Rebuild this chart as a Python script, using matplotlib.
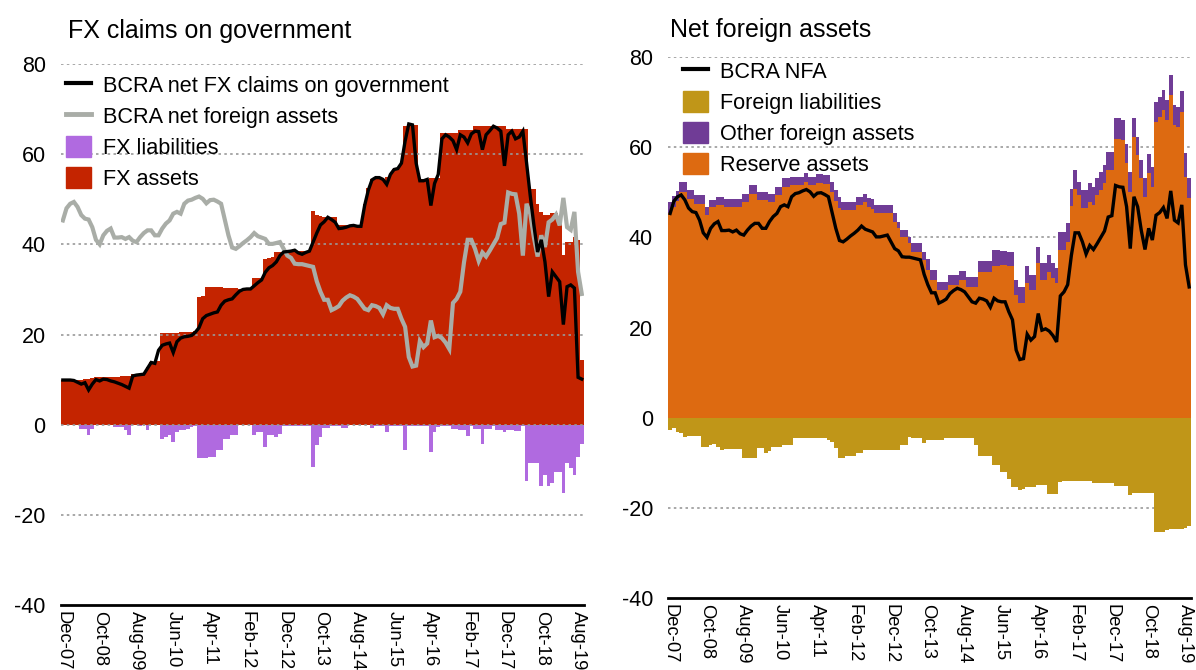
import matplotlib
matplotlib.use("Agg")
import matplotlib.pyplot as plt
from matplotlib import font_manager
from matplotlib.patches import Patch
from matplotlib.lines import Line2D
import numpy as np

# font: narrow sans if there is one
names = {f.name for f in font_manager.fontManager.ttflist}
if "Liberation Sans Narrow" in names:
    FONT = "Liberation Sans Narrow"
    SCALE = 1.0
else:
    FONT = "Liberation Sans"
    SCALE = 0.82
plt.rcParams["font.family"] = [FONT, "Liberation Sans", "DejaVu Sans"]
plt.rcParams["axes.unicode_minus"] = False

# ---- data (USD bn, monthly Dec-07 .. Sep-19) ----
tick_labels = ["Dec-07", "Oct-08", "Aug-09", "Jun-10", "Apr-11", "Feb-12", "Dec-12",
               "Oct-13", "Aug-14", "Jun-15", "Apr-16", "Feb-17", "Dec-17", "Oct-18", "Aug-19"]

fx_assets = [
    9.9, 9.9, 9.9, 9.9, 9.9, 10.0, 10.1, 10.2, 10.4, 10.5,
    10.5, 10.5, 10.5, 10.6, 10.6, 10.6, 10.7, 10.7, 10.8, 11.2,
    11.2, 11.2, 11.2, 12.8, 13.9, 13.9, 14.2, 20.3, 20.3, 20.4,
    20.4, 20.4, 20.5, 20.5, 20.6, 20.6, 20.7, 28.3, 28.5, 30.6,
    30.6, 30.6, 30.5, 30.5, 30.4, 30.4, 30.3, 30.3, 30.2, 30.2,
    30.1, 30.0, 32.5, 32.5, 32.6, 36.8, 36.9, 37.2, 38.3, 38.3,
    38.4, 38.5, 38.5, 38.5, 38.6, 38.6, 38.6, 38.7, 47.5, 46.4,
    46.2, 46.0, 46.0, 46.0, 46.0, 44.2, 44.2, 44.2, 44.2, 44.2,
    44.2, 44.2, 49.0, 52.5, 54.6, 55.0, 55.0, 54.6, 54.9, 55.6,
    56.8, 57.0, 58.2, 66.2, 66.6, 66.8, 66.5, 54.4, 54.4, 54.4,
    54.8, 54.8, 54.8, 64.7, 64.7, 64.7, 64.7, 64.7, 65.4, 65.4,
    65.4, 65.4, 66.2, 66.2, 66.2, 66.2, 66.3, 66.3, 66.3, 66.3,
    66.3, 65.6, 65.6, 65.6, 65.6, 65.6, 65.6, 52.2, 52.2, 48.9,
    47.1, 46.4, 46.4, 47.0, 47.0, 46.0, 37.6, 40.5, 40.5, 41.6,
    41.0, 14.3,
]

fx_liabilities = [
    0.0, 0.0, 0.0, 0.0, 0.0, -0.9, -0.9, -2.3, -0.9, 0.0,
    0.0, 0.0, 0.0, 0.0, -0.5, -0.5, -0.5, -1.2, -2.3, 0.0,
    0.0, -0.2, 0.0, -1.2, 0.0, 0.0, 0.0, -3.1, -2.8, -2.3,
    -3.8, -1.6, -1.2, -1.2, -1.0, -0.5, -0.3, -7.5, -7.5, -7.5,
    -7.1, -7.1, -5.6, -5.6, -3.1, -3.1, -2.3, -2.3, -0.1, -0.1,
    -0.1, -0.1, -2.3, -1.6, -1.6, -4.9, -2.3, -2.3, -2.7, -2.0,
    -0.2, -0.2, -0.2, -0.2, -0.2, -0.2, -0.2, -0.2, -9.3, -4.5,
    -2.7, -0.7, -0.7, -0.2, -0.2, -0.2, -0.7, -0.7, -0.1, -0.1,
    -0.1, -0.1, -0.1, -0.1, -0.7, -0.2, -0.2, -0.2, -1.6, -0.2,
    -0.2, -0.2, -0.2, -5.6, -0.2, -0.2, -0.2, -0.2, -0.2, -0.2,
    -6.0, -1.6, -0.5, -0.2, -0.2, -0.2, -0.9, -0.9, -1.2, -1.2,
    -2.6, -0.3, -0.9, -0.9, -4.2, -0.9, -0.9, -0.3, -1.2, -1.2,
    -1.6, -1.2, -1.2, -1.4, -1.4, -0.3, -12.6, -8.4, -8.4, -8.4,
    -13.6, -11.1, -13.6, -13.0, -10.4, -10.4, -15.2, -8.6, -9.7, -11.1,
    -7.1, -4.2,
]

net_fx_claims = [
    9.9, 9.9, 9.9, 9.8, 9.4, 9.0, 9.3, 7.7, 9.0, 10.0,
    9.7, 10.1, 10.0, 9.7, 9.5, 9.2, 8.9, 8.5, 8.1, 10.8,
    11.0, 11.1, 11.2, 12.5, 13.8, 13.6, 16.5, 17.6, 17.9, 18.1,
    16.0, 18.4, 19.2, 19.5, 19.6, 19.8, 20.5, 21.5, 23.5, 24.2,
    24.5, 24.8, 25.0, 26.5, 27.4, 27.7, 27.9, 28.8, 29.6, 30.0,
    30.1, 30.1, 30.8, 31.5, 32.1, 33.8, 34.8, 35.3, 36.1, 37.5,
    38.3, 38.4, 38.5, 38.7, 38.1, 37.8, 38.2, 38.5, 40.5, 42.5,
    44.3, 45.0, 46.0, 45.5, 44.9, 43.5, 43.6, 43.8, 44.1, 44.2,
    44.0, 44.0, 48.6, 52.0, 54.3, 54.8, 54.8, 54.4, 53.3, 55.5,
    56.6, 56.8, 58.0, 62.9, 66.7, 66.5, 58.0, 54.1, 54.1, 54.4,
    48.6, 53.5, 55.5, 63.4, 64.3, 63.8, 63.0, 61.0, 64.3, 63.8,
    62.5, 64.5, 65.1, 65.0, 61.0, 64.3, 65.2, 66.2, 65.8, 65.1,
    57.4, 64.3, 65.1, 63.4, 63.8, 65.1, 58.1, 50.8, 44.2, 38.3,
    41.0, 36.1, 28.4, 33.9, 32.8, 31.7, 22.2, 30.6, 31.0, 30.3,
    10.5, 10.1,
]

# BCRA net foreign assets (grey line on the left, black line on the right)
nfa = [
    45.3, 48.0, 49.0, 49.4, 48.3, 46.5, 45.7, 45.5, 43.8, 41.0,
    40.0, 42.0, 43.0, 43.5, 41.5, 41.5, 41.6, 41.2, 41.6, 40.8,
    40.5, 41.6, 42.5, 43.1, 43.1, 42.0, 42.0, 43.5, 44.6, 45.3,
    46.8, 47.2, 46.8, 49.0, 49.7, 49.9, 50.3, 50.6, 50.1, 49.1,
    49.8, 49.9, 49.5, 49.0, 45.5, 42.0, 39.3, 39.0, 39.6, 40.3,
    40.9, 41.6, 42.5, 41.8, 41.5, 41.2, 40.1, 40.1, 40.3, 40.5,
    39.0, 37.5, 37.0, 35.7, 35.6, 35.6, 35.4, 35.2, 35.0, 31.8,
    29.5, 27.7, 27.7, 25.4, 25.8, 26.3, 27.5, 28.2, 28.7, 28.4,
    27.9, 26.8, 25.7, 25.4, 26.5, 26.3, 25.9, 24.5, 26.5, 25.9,
    25.7, 25.7, 23.5, 21.7, 15.0, 12.9, 13.1, 18.5, 17.2, 18.0,
    23.1, 19.4, 19.7, 19.2, 18.2, 16.8, 27.0, 27.9, 29.5, 36.0,
    41.0, 41.0, 39.0, 36.3, 38.2, 37.3, 38.6, 40.0, 41.4, 44.5,
    44.8, 51.5, 51.2, 51.1, 46.8, 37.5, 49.0, 46.8, 41.5, 37.3,
    42.0, 39.4, 44.9, 45.5, 46.6, 44.2, 50.3, 43.8, 43.2, 47.2,
    33.9, 29.0,
]

reserve_assets = [
    45.3, 46.8, 48.0, 50.1, 50.1, 48.6, 48.6, 47.5, 47.5, 47.5,
    44.9, 46.8, 46.8, 47.2, 47.2, 46.8, 46.8, 46.8, 46.8, 46.8,
    47.9, 47.9, 49.7, 49.7, 48.3, 48.3, 48.3, 47.9, 47.9, 49.4,
    49.4, 51.2, 51.2, 51.6, 51.6, 51.6, 51.6, 52.3, 51.6, 51.6,
    52.0, 52.0, 51.8, 51.8, 50.1, 48.0, 46.5, 46.0, 46.0, 46.0,
    46.0, 47.2, 47.2, 47.9, 46.8, 46.2, 45.3, 45.3, 45.3, 45.3,
    45.3, 43.5, 42.0, 40.1, 40.1, 38.7, 36.8, 36.8, 36.8, 35.0,
    32.7, 30.5, 30.5, 28.3, 28.3, 28.3, 29.4, 29.4, 29.4, 30.5,
    30.5, 29.0, 29.0, 29.0, 32.4, 32.4, 32.4, 32.4, 33.6, 33.6,
    33.9, 33.9, 33.6, 33.6, 27.2, 25.4, 25.4, 29.8, 28.3, 28.3,
    34.2, 30.5, 30.5, 32.4, 30.9, 29.8, 37.2, 37.2, 39.0, 46.9,
    50.8, 49.4, 46.4, 46.4, 47.9, 47.2, 49.4, 50.5, 52.0, 54.9,
    54.9, 61.9, 61.9, 61.6, 56.4, 50.1, 62.3, 58.2, 53.1, 49.0,
    54.2, 51.2, 65.6, 66.7, 68.2, 66.0, 71.5, 64.9, 64.5, 67.8,
    53.4, 48.8,
]

other_foreign_assets = [
    2.5, 2.4, 2.3, 2.2, 2.2, 1.9, 1.9, 1.9, 1.9, 1.9,
    1.9, 1.5, 1.5, 1.8, 1.8, 1.8, 1.8, 1.8, 1.8, 1.8,
    1.8, 1.8, 1.9, 1.9, 1.8, 1.8, 1.8, 1.8, 1.8, 1.8,
    1.8, 1.9, 1.9, 1.8, 1.8, 1.8, 1.8, 2.0, 1.8, 1.8,
    2.0, 2.0, 2.0, 2.0, 2.2, 2.5, 2.5, 1.9, 1.9, 1.9,
    1.9, 1.8, 1.8, 1.8, 1.9, 2.4, 1.9, 1.9, 1.9, 1.9,
    1.9, 1.8, 1.5, 1.5, 1.5, 1.4, 2.0, 2.0, 2.0, 1.8,
    2.6, 2.2, 2.2, 1.9, 1.9, 1.9, 2.2, 2.2, 2.2, 2.1,
    2.1, 2.3, 2.3, 2.3, 2.4, 2.4, 2.4, 2.4, 3.6, 3.6,
    3.1, 3.1, 3.1, 3.1, 3.3, 3.6, 3.6, 3.8, 3.3, 3.3,
    3.7, 3.7, 3.7, 3.7, 3.3, 3.3, 4.0, 4.0, 4.1, 3.9,
    4.1, 2.9, 4.1, 4.1, 4.1, 4.0, 3.7, 4.0, 4.0, 4.1,
    4.1, 4.5, 4.5, 4.4, 4.4, 4.4, 4.1, 4.1, 4.0, 4.1,
    4.3, 4.5, 4.5, 4.5, 4.5, 4.4, 4.5, 4.4, 4.5, 4.7,
    5.2, 4.4,
]

foreign_liabilities = [
    -2.7, -2.4, -3.1, -3.5, -4.2, -4.1, -4.1, -4.1, -4.1, -6.4,
    -6.4, -6.1, -5.9, -6.5, -7.2, -7.0, -7.0, -7.0, -7.0, -7.0,
    -9.0, -9.0, -9.0, -9.0, -6.8, -6.8, -7.9, -7.5, -6.4, -6.4,
    -6.4, -6.1, -6.1, -6.1, -4.4, -4.4, -4.4, -4.4, -4.4, -4.4,
    -4.6, -4.6, -4.6, -5.0, -5.3, -6.8, -9.0, -9.0, -8.6, -8.6,
    -8.6, -7.9, -7.9, -7.2, -7.2, -7.2, -7.2, -7.2, -7.2, -7.2,
    -7.2, -7.2, -7.2, -6.1, -6.1, -4.2, -4.6, -4.6, -4.6, -5.7,
    -5.0, -5.0, -5.0, -5.0, -5.0, -4.4, -4.4, -4.4, -4.4, -4.4,
    -4.4, -4.6, -4.6, -6.1, -8.6, -8.6, -8.6, -8.6, -10.5, -10.5,
    -12.0, -12.0, -13.5, -15.3, -15.3, -16.0, -15.9, -15.4, -15.4, -15.4,
    -14.9, -14.9, -14.9, -16.9, -16.9, -16.9, -14.2, -14.0, -14.0, -14.0,
    -14.0, -14.0, -14.0, -14.0, -14.0, -14.6, -14.6, -14.6, -14.6, -14.6,
    -14.6, -15.2, -15.2, -15.2, -15.2, -17.1, -16.6, -16.6, -16.6, -16.6,
    -16.6, -16.6, -25.3, -25.3, -25.3, -25.0, -24.6, -24.6, -24.6, -24.6,
    -24.4, -24.1,
]

RED = "#c42400"
LILAC = "#b06ae0"
GREY = "#a9ada7"
ORANGE = "#dd6a11"
PURPLE = "#703c96"
GOLD = "#c09618"

x = np.arange(len(fx_assets))
tick_pos = np.arange(0, len(x), 10)

W, H = 1196, 670
fig = plt.figure(figsize=(W / 100, H / 100), dpi=100)
ax1 = fig.add_axes([61 / W, 1 - 605 / H, 522.6 / W, 541 / H])
ax2 = fig.add_axes([668.3 / W, 1 - 598 / H, 522.7 / W, 541 / H])


def style_axis(ax, grid_on_top):
    ax.set_xlim(-0.5, len(x) - 0.5)
    ax.set_ylim(-40, 80)
    for s in ["top", "right", "left"]:
        ax.spines[s].set_visible(False)
    ax.spines["bottom"].set_linewidth(2)
    ax.set_yticks([-40, -20, 0, 20, 40, 60, 80])
    ax.set_xticks(tick_pos)
    ax.set_xticklabels(tick_labels, rotation=270, va="top", ha="center",
                       family=["Liberation Sans", "DejaVu Sans"])
    for lab in ax.get_yticklabels():
        lab.set_family(["Liberation Sans", "DejaVu Sans"])
    ax.tick_params(axis="y", length=0, labelsize=15.5, pad=11)
    ax.tick_params(axis="x", length=0, labelsize=13.2, pad=4)
    for v in [-20, 0, 20, 40, 60, 80]:
        ax.axhline(v, color="#9a9a9a", lw=1.2, ls=(0, (1.5, 2)),
                   zorder=2.5 if grid_on_top else 0.5)


legend_kw = dict(loc="upper left", frameon=False, fontsize=19 * SCALE,
                 handlelength=1.15, handleheight=1.1, handletextpad=0.55,
                 labelspacing=0.38, borderaxespad=0.0, borderpad=0.0)

# ---- left: FX claims on government ----
ax1.bar(x, fx_assets, width=1.0, color=RED, lw=0, antialiased=False, zorder=1)
ax1.bar(x, fx_liabilities, width=1.0, color=LILAC, lw=0, antialiased=False, zorder=1)
ax1.plot(x, nfa, color=GREY, lw=3.0, zorder=3, solid_joinstyle="miter")
ax1.plot(x, net_fx_claims, color="black", lw=2.4, zorder=4, solid_joinstyle="miter")
style_axis(ax1, True)
fig.text(68 / W, 1 - 31 / H, "FX claims on government", fontsize=22 * SCALE,
         ha="left", va="center")

h1 = [Line2D([], [], color="black", lw=3),
      Line2D([], [], color=GREY, lw=3.5),
      Patch(color=LILAC), Patch(color=RED)]
ax1.legend(h1, ["BCRA net FX claims on government", "BCRA net foreign assets",
                "FX liabilities", "FX assets"],
           bbox_to_anchor=(5 / 522.6, 1 - 10 / 541), **legend_kw)

# ---- right: Net foreign assets ----
ax2.bar(x, reserve_assets, width=1.0, color=ORANGE, lw=0, antialiased=False, zorder=1)
ax2.bar(x, other_foreign_assets, bottom=reserve_assets, width=1.0, color=PURPLE,
        lw=0, antialiased=False, zorder=1)
ax2.bar(x, foreign_liabilities, width=1.0, color=GOLD, lw=0, antialiased=False, zorder=1)
ax2.plot(x, nfa, color="black", lw=2.4, zorder=4, solid_joinstyle="miter")
style_axis(ax2, False)
fig.text(670 / W, 1 - 30 / H, "Net foreign assets", fontsize=22 * SCALE,
         ha="left", va="center")

h2 = [Line2D([], [], color="black", lw=3),
      Patch(color=GOLD), Patch(color=PURPLE), Patch(color=ORANGE)]
ax2.legend(h2, ["BCRA NFA", "Foreign liabilities", "Other foreign assets", "Reserve assets"],
           bbox_to_anchor=(15 / 522.7, 1 - 3 / 541), **legend_kw)

fig.savefig("out.png", dpi=100)
